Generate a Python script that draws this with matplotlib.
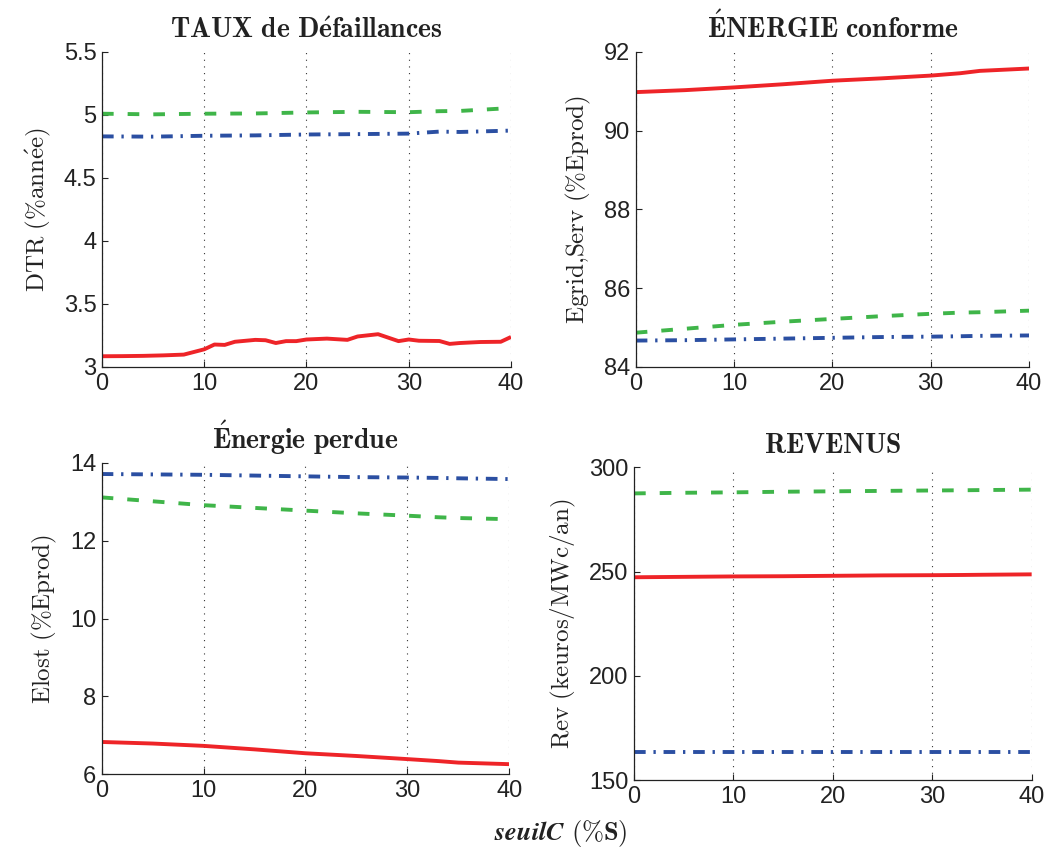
import matplotlib
matplotlib.use('Agg')
import matplotlib.pyplot as plt

plt.rcParams['mathtext.fontset'] = 'cm'
plt.rcParams['font.family'] = ['Liberation Sans', 'DejaVu Sans']

RED = '#ee2428'
GREEN = '#3fb549'
BLUE = '#2b4fa2'

# seuilC (%S)
x_dtr = [0, 2, 4, 6, 8, 10, 11, 12, 13, 15, 16, 17, 18, 19, 20, 22, 24, 25, 27,
         29, 30, 31, 33, 34, 35, 37, 39, 40]
dtr_red = [3.085, 3.086, 3.088, 3.092, 3.098, 3.14, 3.178, 3.175, 3.20, 3.215,
           3.212, 3.19, 3.205, 3.205, 3.218, 3.225, 3.215, 3.242, 3.26, 3.205,
           3.218, 3.208, 3.206, 3.183, 3.19, 3.198, 3.2, 3.238]

x_coarse = [0, 5, 10, 15, 20, 25, 30, 33, 35, 40]
dtr_green = [5.01, 5.005, 5.01, 5.012, 5.02, 5.025, 5.022, 5.03, 5.032, 5.055]
dtr_blue = [4.83, 4.828, 4.835, 4.838, 4.845, 4.848, 4.852, 4.868, 4.865, 4.876]

egrid_red = [90.98, 91.03, 91.1, 91.18, 91.27, 91.33, 91.4, 91.46, 91.52, 91.58]
egrid_green = [84.87, 84.97, 85.07, 85.15, 85.22, 85.29, 85.35, 85.38, 85.39, 85.43]
egrid_blue = [84.67, 84.68, 84.7, 84.72, 84.74, 84.76, 84.77, 84.78, 84.79, 84.8]

elost_red = [6.83, 6.79, 6.73, 6.64, 6.54, 6.47, 6.39, 6.34, 6.3, 6.26]
elost_green = [13.11, 13.01, 12.91, 12.84, 12.77, 12.7, 12.64, 12.6, 12.58, 12.55]
elost_blue = [13.71, 13.7, 13.69, 13.67, 13.65, 13.63, 13.62, 13.61, 13.6, 13.58]

rev_red = [247.3, 247.5, 247.7, 247.8, 248.0, 248.2, 248.3, 248.4, 248.5, 248.7]
rev_green = [287.5, 287.8, 288.0, 288.3, 288.5, 288.7, 288.9, 289.0, 289.1, 289.3]
rev_blue = [163.4] * 10

xticks = [0, 10, 20, 30, 40]

fig = plt.figure(figsize=(10.48, 8.52), dpi=100)

panels = [
    # rect, title, ylabel, ylim, yticks, yticklabels, series
    ([0.0973, 0.5693, 0.3903, 0.3697],
     r'$\mathbf{TAUX\ de\ D\acute{e}faillances}$',
     r'$\mathrm{DTR\ (\%ann\acute{e}e)}$',
     (3, 5.5), [3, 3.5, 4, 4.5, 5, 5.5], ['3', '3.5', '4', '4.5', '5', '5.5'],
     [(x_dtr, dtr_red, RED, '-'), (x_coarse, dtr_green, GREEN, '--'),
      (x_coarse, dtr_blue, BLUE, '-.')]),
    ([0.6066, 0.5693, 0.3753, 0.3697],
     r'$\mathbf{\acute{E}NERGIE\ conforme}$',
     r'$\mathrm{Egrid{,}Serv\ (\%Eprod)}$',
     (84, 92), [84, 86, 88, 90, 92], ['84', '86', '88', '90', '92'],
     [(x_coarse, egrid_red, RED, '-'), (x_coarse, egrid_green, GREEN, '--'),
      (x_coarse, egrid_blue, BLUE, '-.')]),
    ([0.0970, 0.0912, 0.3890, 0.3657],
     r'$\mathbf{\acute{E}nergie\ perdue}$',
     r'$\mathrm{Elost\ (\%Eprod)}$',
     (6, 14), [6, 8, 10, 12, 14], ['6', '8', '10', '12', '14'],
     [(x_coarse, elost_red, RED, '-'), (x_coarse, elost_green, GREEN, '--'),
      (x_coarse, elost_blue, BLUE, '-.')]),
    ([0.6050, 0.0842, 0.3794, 0.3673],
     r'$\mathbf{REVENUS}$',
     r'$\mathrm{Rev\ (keuros/MWc/an)}$',
     (150, 300), [150, 200, 250, 300], ['150', '200', '250', '300'],
     [(x_coarse, rev_red, RED, '-'), (x_coarse, rev_green, GREEN, '--'),
      (x_coarse, rev_blue, BLUE, '-.')]),
]

for rect, title, ylabel, ylim, yticks, ytl, series in panels:
    ax = fig.add_axes(rect)
    for xs, ys, col, ls in series:
        line, = ax.plot(xs, ys, color=col, linestyle=ls, linewidth=2.8,
                        solid_capstyle='butt', dash_capstyle='butt')
        if ls == '--':
            line.set_dashes((3.0, 3.6))
        elif ls == '-.':
            line.set_dashes((3.0, 2.0, 0.6, 2.0))
    ax.set_xlim(0, 40)
    ax.set_ylim(*ylim)
    ax.set_xticks(xticks)
    ax.set_xticklabels([str(t) for t in xticks])
    ax.set_yticks(yticks)
    ax.set_yticklabels(ytl)
    ax.tick_params(direction='in', length=4, width=0.8, labelsize=17, pad=4,
                   colors='#222222')
    ax.grid(axis='x', linestyle=(0, (1, 5)), color='#333333', linewidth=0.8)
    ax.spines['top'].set_visible(False)
    ax.spines['right'].set_visible(False)
    for s in ('left', 'bottom'):
        ax.spines[s].set_linewidth(0.9)
        ax.spines[s].set_color('#222222')
    ax.set_title(title, fontsize=20, pad=10, color='#222222')
    ax.set_ylabel(ylabel, fontsize=18, labelpad=8, color='#222222')

fig.text(0.535, 0.022, r'$\boldsymbol{seuilC}\ \mathbf{(\%S)}$',
         fontsize=19, ha='center', va='center', color='#222222')

fig.savefig('out.png', dpi=100)
